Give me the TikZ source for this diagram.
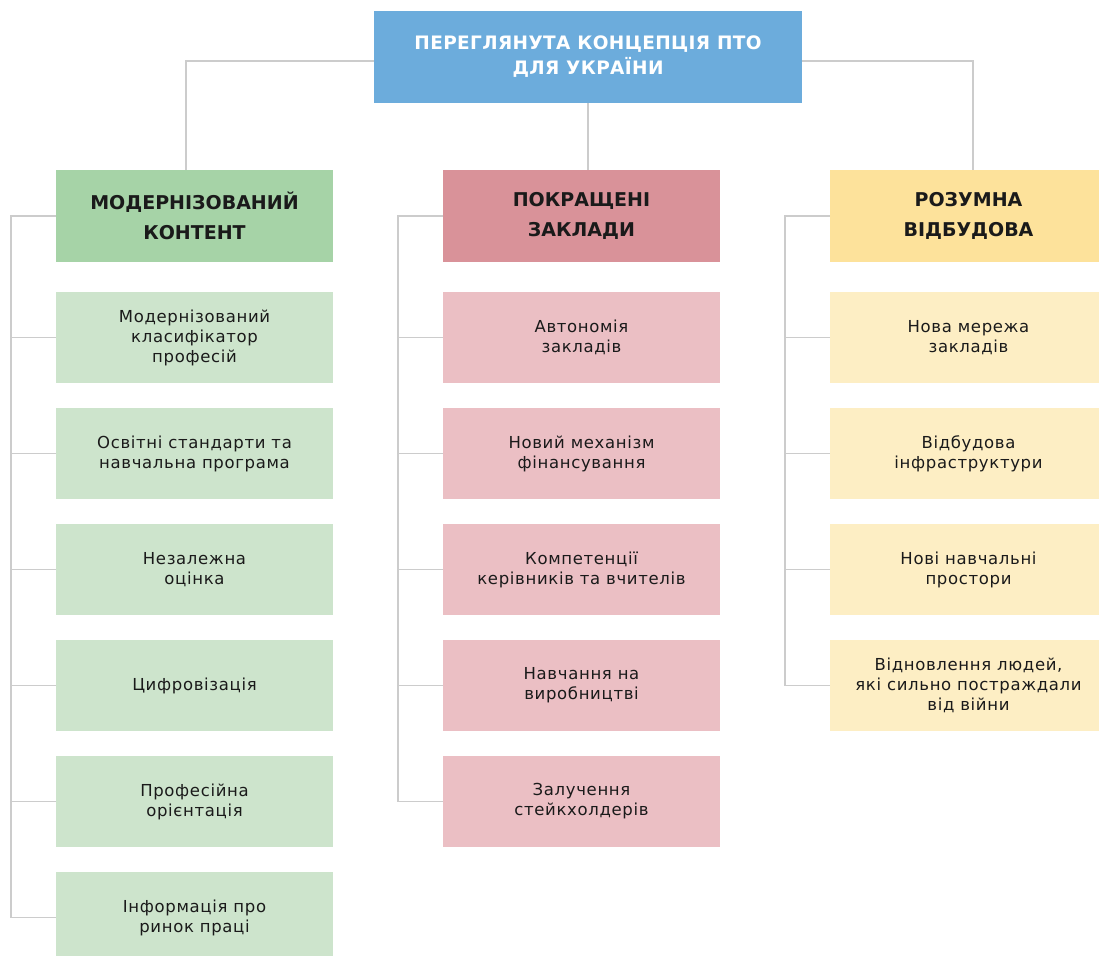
\documentclass[tikz,border=0pt]{standalone}
\usepackage{fontspec}
\setmainfont{DejaVu Sans}
\newfontfamily\itemfont[LetterSpace=4]{DejaVu Sans}
\newfontfamily\titlefont[LetterSpace=2]{DejaVu Sans}
\usetikzlibrary{positioning}
\definecolor{topblue}{HTML}{6CACDC}
\definecolor{greenhead}{HTML}{A6D3A7}
\definecolor{greenitem}{HTML}{CDE4CC}
\definecolor{pinkhead}{HTML}{D99299}
\definecolor{pinkitem}{HTML}{EBBFC4}
\definecolor{yellowhead}{HTML}{FDE29B}
\definecolor{yellowitem}{HTML}{FDEEC4}
\definecolor{linkgrey}{HTML}{CCCCCC}
\definecolor{inkgrey}{HTML}{1A1A1A}
\tikzset{elbow/.style={to path={-| (\tikztotarget)}},
         comb/.style={to path={-- ++(-45pt,0) |- (\tikztotarget)}}}

\begin{document}
\begin{tikzpicture}[x=1pt,y=-1pt,
      node distance=116pt,
      on grid,
      box/.style={minimum width=277pt, minimum height=91pt, inner sep=0pt,
        align=center, text=inkgrey, font=\itemfont\fontsize{16.5}{20}\selectfont},
      head/.style={box, minimum height=92pt,
        font=\bfseries\fontsize{19}{30}\selectfont},
      link/.style={draw=linkgrey, line width=1.5pt}]

    \useasboundingbox (0,0) rectangle (1099,955);

    \node[head, fill=topblue, text=white, minimum width=428pt,
      font=\titlefont\bfseries\fontsize{18.5}{25}\selectfont]
      (Concept) at (588,57) {ПЕРЕГЛЯНУТА КОНЦЕПЦІЯ ПТО\\ДЛЯ УКРАЇНИ};

    % column heads
    \node[head, fill=greenhead]
      (Content) at (194.5,216) {МОДЕРНІЗОВАНИЙ\\КОНТЕНТ};
    \node[head, fill=pinkhead]
      (Schools) [right=387pt of Content] {ПОКРАЩЕНІ\\ЗАКЛАДИ};
    \node[head, fill=yellowhead]
      (Rebuild) [right=387pt of Schools] {РОЗУМНА\\ВІДБУДОВА};

    % modernised content
    \node[box, fill=greenitem]
      (Classifier) [below=121.5pt of Content] {Модернізований\\класифікатор\\професій};
    \node[box, fill=greenitem]
      (Standards) [below=of Classifier] {Освітні стандарти та\\навчальна програма};
    \node[box, fill=greenitem]
      (Assessment) [below=of Standards] {Незалежна\\оцінка};
    \node[box, fill=greenitem]
      (Digital) [below=of Assessment] {Цифровізація};
    \node[box, fill=greenitem]
      (Guidance) [below=of Digital] {Професійна\\орієнтація};
    \node[box, fill=greenitem]
      (Market) [below=of Guidance] {Інформація про\\ринок праці};

    % better schools
    \node[box, fill=pinkitem]
      (Autonomy) [below=121.5pt of Schools] {Автономія\\закладів};
    \node[box, fill=pinkitem]
      (Funding) [below=of Autonomy] {Новий механізм\\фінансування};
    \node[box, fill=pinkitem]
      (Skills) [below=of Funding] {Компетенції\\керівників та вчителів};
    \node[box, fill=pinkitem]
      (Workplace) [below=of Skills] {Навчання на\\виробництві};
    \node[box, fill=pinkitem]
      (Partners) [below=of Workplace] {Залучення\\стейкхолдерів};

    % smart rebuilding
    \node[box, fill=yellowitem]
      (Network) [below=121.5pt of Rebuild] {Нова мережа\\закладів};
    \node[box, fill=yellowitem]
      (Infra) [below=of Network] {Відбудова\\інфраструктури};
    \node[box, fill=yellowitem]
      (Spaces) [below=of Infra] {Нові навчальні\\простори};
    \node[box, fill=yellowitem]
      (Recovery) [below=of Spaces] {Відновлення людей,\\які сильно постраждали\\від війни};

    \path[link]
      ([yshift=-4pt]Concept.west) edge[elbow] ([xshift=-8.5pt]Content.north)
      ([yshift=-4pt]Concept.east) edge[elbow] ([xshift=4.5pt]Rebuild.north)
      (Concept.south) edge (Concept.south |- Schools.north);

    \path[link]
      (Content.west) edge[comb] (Classifier.west)
      (Content.west) edge[comb] (Standards.west)
      (Content.west) edge[comb] (Assessment.west)
      (Content.west) edge[comb] (Digital.west)
      (Content.west) edge[comb] (Guidance.west)
      (Content.west) edge[comb] (Market.west)
      (Schools.west) edge[comb] (Autonomy.west)
      (Schools.west) edge[comb] (Funding.west)
      (Schools.west) edge[comb] (Skills.west)
      (Schools.west) edge[comb] (Workplace.west)
      (Schools.west) edge[comb] (Partners.west)
      (Rebuild.west) edge[comb] (Network.west)
      (Rebuild.west) edge[comb] (Infra.west)
      (Rebuild.west) edge[comb] (Spaces.west)
      (Rebuild.west) edge[comb] (Recovery.west);

  \end{tikzpicture}
\end{document}
